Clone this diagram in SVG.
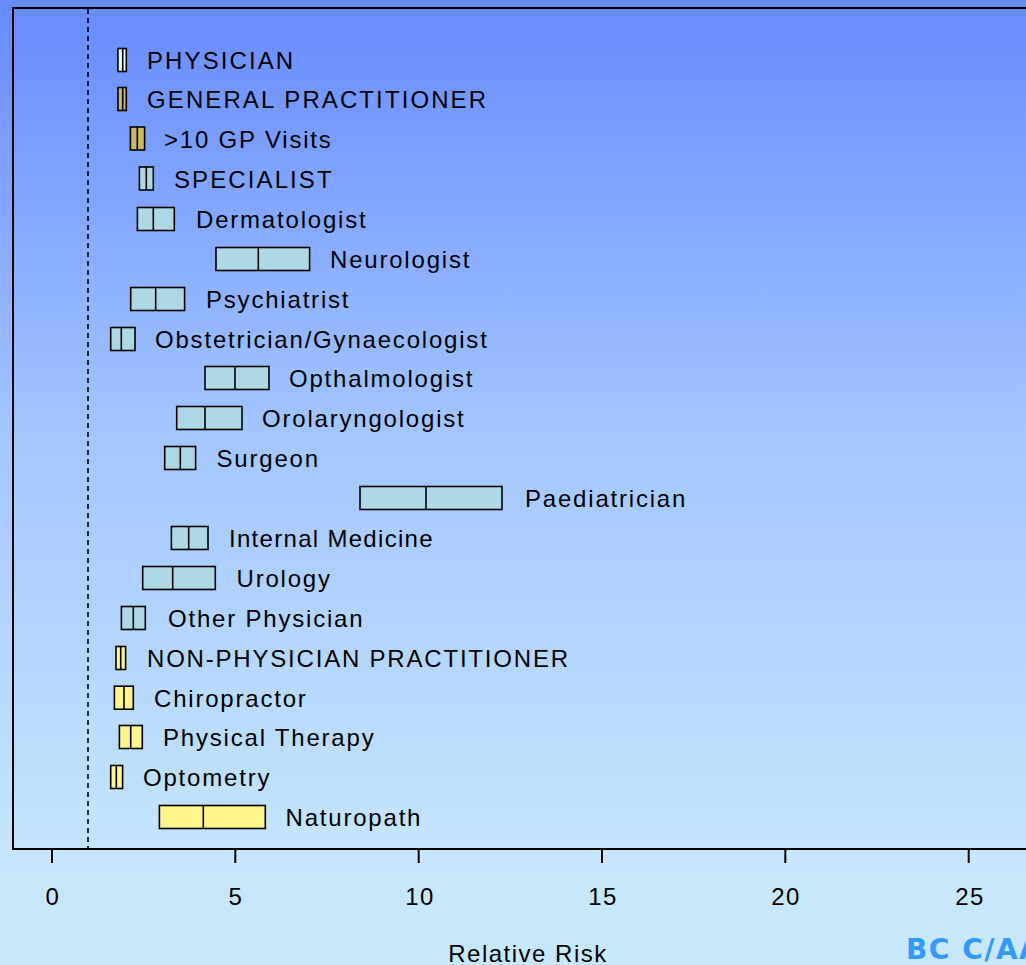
<svg xmlns="http://www.w3.org/2000/svg" width="1026" height="965" viewBox="0 0 1026 965">
<defs>
<linearGradient id="bg" x1="0" y1="0" x2="0" y2="870" gradientUnits="userSpaceOnUse">
<stop offset="0" stop-color="#668bff"/>
<stop offset="0.5" stop-color="#a3c6ff"/>
<stop offset="1" stop-color="#c6e7fc"/>
</linearGradient>
</defs>
<style>
.lbl{font-family:"Liberation Sans",Arial,sans-serif;font-size:24px;letter-spacing:1.8px;fill:#000}
.caps{letter-spacing:2.1px}
.tight{letter-spacing:1.3px}
.tick{font-family:"Liberation Sans",Arial,sans-serif;font-size:24px;letter-spacing:1.5px;fill:#000;text-anchor:middle}
.box{stroke:#000;stroke-width:1.6}
.med{stroke:#000;stroke-width:1.6}
.cy{fill:#add8e6}
.ye{fill:#fff58c}
.gp{fill:#cbb862}
.ph{fill:#e4fdfd}
.ax{stroke:#000;stroke-width:2;fill:none}
</style>
<rect x="0" y="0" width="1026" height="965" fill="url(#bg)"/>
<g id="frame">
<rect class="ax" x="13" y="8" width="1030" height="841"/>
<line x1="88" y1="9" x2="88" y2="848" stroke="#000" stroke-width="1.6" stroke-dasharray="5,4"/>
</g>
<g id="axis">
<line class="ax" x1="52" y1="849" x2="52" y2="863"/>
<line class="ax" x1="235.3" y1="849" x2="235.3" y2="863"/>
<line class="ax" x1="418.7" y1="849" x2="418.7" y2="863"/>
<line class="ax" x1="602" y1="849" x2="602" y2="863"/>
<line class="ax" x1="785.3" y1="849" x2="785.3" y2="863"/>
<line class="ax" x1="968.7" y1="849" x2="968.7" y2="863"/>
<text class="tick" x="53" y="905">0</text>
<text class="tick" x="236" y="905">5</text>
<text class="tick" x="420" y="905">10</text>
<text class="tick" x="603" y="905">15</text>
<text class="tick" x="786" y="905">20</text>
<text class="tick" x="970" y="905">25</text>
<text class="tick" x="528" y="962">Relative Risk</text>
</g>
<g id="connectors"></g>
<g id="n1"><rect class="box ph" x="118" y="48.5" width="8.3" height="23"/><line class="med" x1="122.7" y1="48.5" x2="122.7" y2="71.5"/><text class="lbl caps" x="147" y="69">PHYSICIAN</text></g>
<g id="n2"><rect class="box gp" x="118" y="87.5" width="8.3" height="23"/><line class="med" x1="122.7" y1="87.5" x2="122.7" y2="110.5"/><text class="lbl caps" x="147" y="108">GENERAL PRACTITIONER</text></g>
<g id="n3"><rect class="box gp" x="130.4" y="127" width="14.2" height="23"/><line class="med" x1="137.3" y1="127" x2="137.3" y2="150"/><text class="lbl" x="164" y="147.5">&gt;10 GP Visits</text></g>
<g id="n4"><rect class="box cy" x="139.4" y="167" width="13.9" height="23"/><line class="med" x1="146.3" y1="167" x2="146.3" y2="190"/><text class="lbl caps" x="174" y="187.5">SPECIALIST</text></g>
<g id="n5"><rect class="box cy" x="137.4" y="207.5" width="36.9" height="23"/><line class="med" x1="153.3" y1="207.5" x2="153.3" y2="230.5"/><text class="lbl" x="196" y="228">Dermatologist</text></g>
<g id="n6"><rect class="box cy" x="216" y="247.5" width="93.6" height="23"/><line class="med" x1="258.3" y1="247.5" x2="258.3" y2="270.5"/><text class="lbl" x="330" y="268">Neurologist</text></g>
<g id="n7"><rect class="box cy" x="130.7" y="287.5" width="53.9" height="23"/><line class="med" x1="155.7" y1="287.5" x2="155.7" y2="310.5"/><text class="lbl" x="206" y="308">Psychiatrist</text></g>
<g id="n8"><rect class="box cy" x="110.7" y="327.5" width="24.3" height="23"/><line class="med" x1="121.3" y1="327.5" x2="121.3" y2="350.5"/><text class="lbl" x="155" y="348">Obstetrician/Gynaecologist</text></g>
<g id="n9"><rect class="box cy" x="205" y="366.5" width="64" height="23"/><line class="med" x1="235" y1="366.5" x2="235" y2="389.5"/><text class="lbl" x="289" y="387">Opthalmologist</text></g>
<g id="n10"><rect class="box cy" x="176.7" y="406.5" width="65.3" height="23"/><line class="med" x1="205" y1="406.5" x2="205" y2="429.5"/><text class="lbl" x="262" y="427">Orolaryngologist</text></g>
<g id="n11"><rect class="box cy" x="164.7" y="446.5" width="30.9" height="23"/><line class="med" x1="180.3" y1="446.5" x2="180.3" y2="469.5"/><text class="lbl" x="216.5" y="467">Surgeon</text></g>
<g id="n12"><rect class="box cy" x="360" y="486.5" width="142" height="23"/><line class="med" x1="426" y1="486.5" x2="426" y2="509.5"/><text class="lbl" x="525" y="507">Paediatrician</text></g>
<g id="n13"><rect class="box cy" x="171.4" y="526.5" width="36.6" height="23"/><line class="med" x1="188.7" y1="526.5" x2="188.7" y2="549.5"/><text class="lbl tight" x="229" y="547">Internal Medicine</text></g>
<g id="n14"><rect class="box cy" x="142.7" y="566.5" width="72.6" height="23"/><line class="med" x1="172.7" y1="566.5" x2="172.7" y2="589.5"/><text class="lbl" x="236.5" y="587">Urology</text></g>
<g id="n15"><rect class="box cy" x="121.4" y="606.5" width="23.9" height="23"/><line class="med" x1="133.3" y1="606.5" x2="133.3" y2="629.5"/><text class="lbl" x="168" y="627">Other Physician</text></g>
<g id="n16"><rect class="box ye" x="116" y="646.5" width="9.6" height="23"/><line class="med" x1="120.7" y1="646.5" x2="120.7" y2="669.5"/><text class="lbl" x="147" y="667">NON-PHYSICIAN PRACTITIONER</text></g>
<g id="n17"><rect class="box ye" x="114.4" y="686.2" width="18.9" height="23"/><line class="med" x1="124" y1="686.2" x2="124" y2="709.2"/><text class="lbl" x="154" y="706.5">Chiropractor</text></g>
<g id="n18"><rect class="box ye" x="119.4" y="725.5" width="22.9" height="23"/><line class="med" x1="130.7" y1="725.5" x2="130.7" y2="748.5"/><text class="lbl" x="163" y="746">Physical Therapy</text></g>
<g id="n19"><rect class="box ye" x="110.7" y="765.5" width="11.9" height="23"/><line class="med" x1="116.3" y1="765.5" x2="116.3" y2="788.5"/><text class="lbl" x="143" y="786">Optometry</text></g>
<g id="n20"><rect class="box ye" x="159.4" y="805.5" width="105.9" height="23"/><line class="med" x1="203.3" y1="805.5" x2="203.3" y2="828.5"/><text class="lbl" x="285.5" y="826">Naturopath</text></g>
<text x="906" y="959" font-family="'DejaVu Sans',Verdana,sans-serif" font-weight="bold" font-size="28" letter-spacing="1.5" fill="#3399ff">BC C/AA</text>
</svg>
